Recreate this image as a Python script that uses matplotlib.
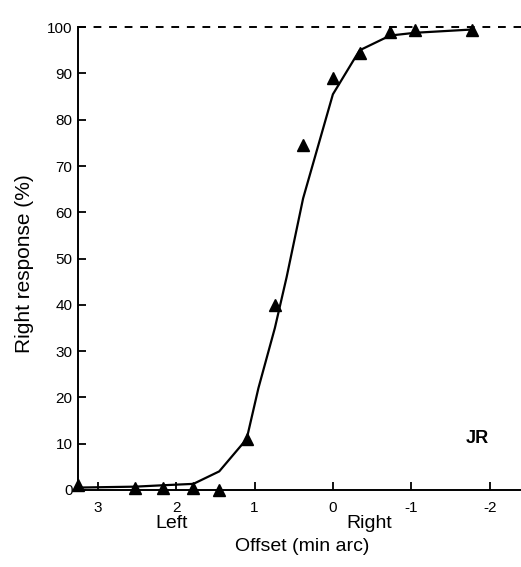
import matplotlib
matplotlib.use("Agg")
import matplotlib.pyplot as plt

plt.rcParams['font.family'] = ['Liberation Sans', 'DejaVu Sans']
plt.rcParams['axes.unicode_minus'] = False

# data points (triangles)
offset = [3.25, 2.52, 2.17, 1.78, 1.45, 1.10, 0.74, 0.38, 0.0, -0.34, -0.73, -1.05, -1.77]
resp = [1.0, 0.5, 0.5, 0.5, 0.0, 11.0, 40.0, 74.5, 89.0, 94.5, 99.0, 99.5, 99.5]

# fitted curve
curve_x = [3.25, 2.52, 2.17, 1.78, 1.45, 1.10, 0.95, 0.74, 0.59, 0.38, 0.0, -0.34, -0.73, -1.05, -1.77]
curve_y = [0.5, 0.7, 1.0, 1.3, 4.0, 11.0, 22.0, 35.0, 46.0, 63.0, 85.5, 95.0, 98.2, 98.8, 99.5]

xticks = [3, 2, 1, 0, -1, -2]
xticklabels = ['3', '2', '1', '0', '-1', '-2']
yticks = [0, 10, 20, 30, 40, 50, 60, 70, 80, 90, 100]

fig = plt.figure(figsize=(5.21, 5.67), dpi=100)
ax = fig.add_axes([0.150, 0.136, 0.850, 0.816])

ax.plot(curve_x, curve_y, color='black', lw=1.6, clip_on=False, zorder=3)
ax.plot(offset, resp, linestyle='none', marker='^', color='black', ms=8, clip_on=False, zorder=4)
ax.axhline(100, color='black', lw=1.4, ls=(0, (4, 4)), clip_on=False)

ax.set_xlim(3.25, -2.4)
ax.set_ylim(0, 100)
ax.set_xticks(xticks)
ax.set_xticklabels(xticklabels)
ax.set_yticks(yticks)

for s in ['top', 'right']:
    ax.spines[s].set_visible(False)
for s in ['left', 'bottom']:
    ax.spines[s].set_linewidth(1.4)

ax.tick_params(axis='both', direction='in', length=6, width=1.3, labelsize=11, colors='black')
ax.tick_params(axis='x', pad=8)
ax.tick_params(axis='y', pad=4)

ax.set_ylabel('Right response (%)', fontsize=15)
ax.yaxis.set_label_coords(-0.10, 0.49)
ax.set_xlabel('Offset (min arc)', fontsize=14)
ax.xaxis.set_label_coords(0.506, -0.105)

ax.text(2.06, -5.5, 'Left', ha='center', va='top', fontsize=14)
ax.text(-0.47, -5.5, 'Right', ha='center', va='top', fontsize=14)
ax.text(-1.84, 11, 'JR', ha='center', va='center', fontsize=13, fontweight='bold')

fig.savefig('out.png', dpi=100)
